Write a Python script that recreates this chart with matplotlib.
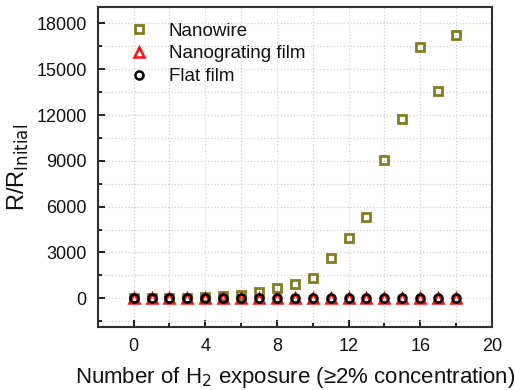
import matplotlib
matplotlib.use("Agg")
import matplotlib.pyplot as plt
from matplotlib.ticker import MultipleLocator

plt.rcParams['font.family'] = ['Liberation Sans', 'DejaVu Sans']

# H2 exposure number
exposure = list(range(0, 19))
# R / R_initial
nanowire = [0, 20, 30, 50, 80, 150, 220, 430, 650, 920, 1350, 2650, 3950,
            5350, 9050, 11750, 16450, 13600, 17250]
nanograting = [1.0] * 19
flat_film = [1.0] * 19

fig = plt.figure(figsize=(5.15, 3.9), dpi=100)
ax = fig.add_axes([0.190, 0.1615, 0.765, 0.8205])

ax.plot(exposure, nanowire, 's', ms=5.2, mfc='none', mec='#7f7f22', mew=2.0,
        label='Nanowire', zorder=3)
ax.plot(exposure, nanograting, '^', ms=7, mfc='none', mec='#ff1010', mew=1.8,
        label='Nanograting film', zorder=4)
ax.plot(exposure, flat_film, 'o', ms=5.8, mfc='none', mec='black', mew=1.8,
        label='Flat film', zorder=5)

ax.set_xlim(-2, 20)
ax.set_ylim(-1880, 19070)
ax.xaxis.set_major_locator(MultipleLocator(4))
ax.xaxis.set_minor_locator(MultipleLocator(2))
ax.yaxis.set_major_locator(MultipleLocator(3000))
ax.yaxis.set_minor_locator(MultipleLocator(1500))

ax.grid(which='both', color='#d0d0d0', linestyle=':', linewidth=0.9)
ax.set_axisbelow(True)

ax.tick_params(which='both', direction='in', top=False, right=False,
               labelsize=13, colors='#111111', width=1.3)
ax.tick_params(which='major', length=5, pad=8)
ax.tick_params(which='minor', length=3)
for s in ax.spines.values():
    s.set_linewidth(1.5)
    s.set_color('#303030')

ax.set_xlabel('Number of H$_2$ exposure (\u22652% concentration)', fontsize=16,
              labelpad=7, color='#111111')
ax.set_ylabel('R/R$_{\\mathrm{Initial}}$', fontsize=17, labelpad=4,
              color='#111111')

leg = ax.legend(loc='upper left', frameon=False, fontsize=13.5,
                handletextpad=0.8, labelspacing=0.3, borderaxespad=0.0,
                bbox_to_anchor=(0.047, 0.975), handlelength=1.6)
for t in leg.get_texts():
    t.set_color('#111111')

fig.savefig('out.png', dpi=100)
